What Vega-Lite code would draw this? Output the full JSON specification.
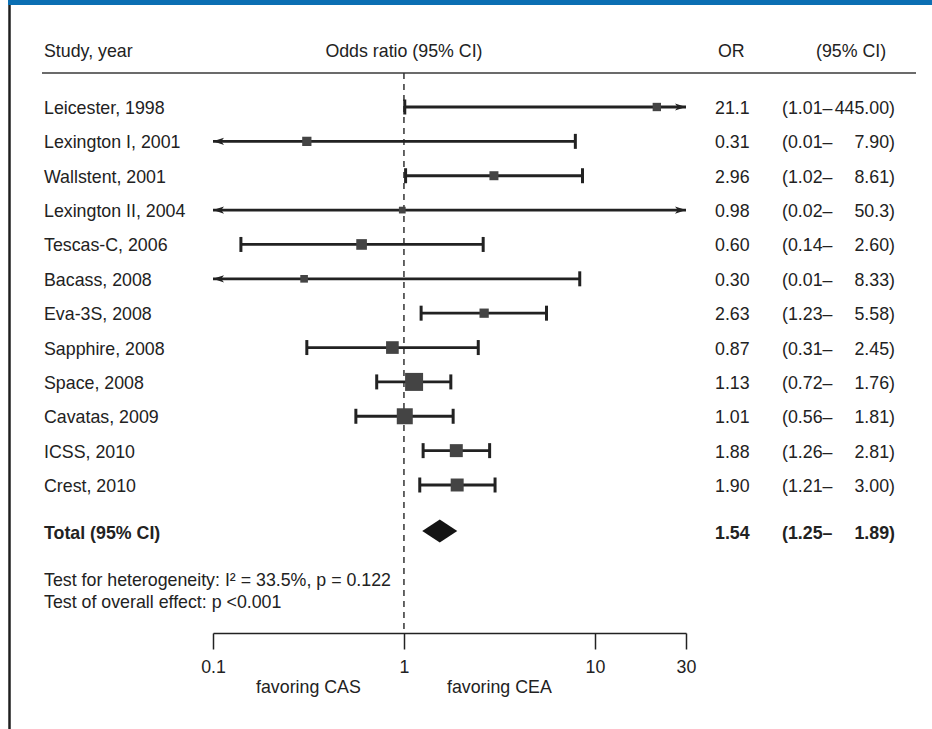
{
  "$schema": "https://vega.github.io/schema/vega-lite/v6.json",
  "width": 924,
  "height": 633,
  "autosize": {"type": "none"},
  "padding": {"left": 8, "top": 0, "right": 0, "bottom": 96},
  "background": "white",
  "config": {
    "view": {"stroke": null},
    "text": {"font": "Liberation Sans", "fontSize": 17.8, "color": "#222222"}
  },
  "datasets": {
    "studies": [
      {"study": "Leicester, 1998", "or": 21.1, "lo": 1.01, "hi": 445.0, "or_label": "21.1", "ci_lo": "(1.01–", "ci_hi": "445.00)", "weight": 4.3},
      {"study": "Lexington I, 2001", "or": 0.31, "lo": 0.01, "hi": 7.90, "or_label": "0.31", "ci_lo": "(0.01–", "ci_hi": "7.90)", "weight": 5.3},
      {"study": "Wallstent, 2001", "or": 2.96, "lo": 1.02, "hi": 8.61, "or_label": "2.96", "ci_lo": "(1.02–", "ci_hi": "8.61)", "weight": 5.0},
      {"study": "Lexington II, 2004", "or": 0.98, "lo": 0.02, "hi": 50.3, "or_label": "0.98", "ci_lo": "(0.02–", "ci_hi": "50.3)", "weight": 2.8},
      {"study": "Tescas-C, 2006", "or": 0.60, "lo": 0.14, "hi": 2.60, "or_label": "0.60", "ci_lo": "(0.14–", "ci_hi": "2.60)", "weight": 7.0},
      {"study": "Bacass, 2008", "or": 0.30, "lo": 0.01, "hi": 8.33, "or_label": "0.30", "ci_lo": "(0.01–", "ci_hi": "8.33)", "weight": 3.6},
      {"study": "Eva-3S, 2008", "or": 2.63, "lo": 1.23, "hi": 5.58, "or_label": "2.63", "ci_lo": "(1.23–", "ci_hi": "5.58)", "weight": 5.3},
      {"study": "Sapphire, 2008", "or": 0.87, "lo": 0.31, "hi": 2.45, "or_label": "0.87", "ci_lo": "(0.31–", "ci_hi": "2.45)", "weight": 9.9},
      {"study": "Space, 2008", "or": 1.13, "lo": 0.72, "hi": 1.76, "or_label": "1.13", "ci_lo": "(0.72–", "ci_hi": "1.76)", "weight": 20.0},
      {"study": "Cavatas, 2009", "or": 1.01, "lo": 0.56, "hi": 1.81, "or_label": "1.01", "ci_lo": "(0.56–", "ci_hi": "1.81)", "weight": 15.8},
      {"study": "ICSS, 2010", "or": 1.88, "lo": 1.26, "hi": 2.81, "or_label": "1.88", "ci_lo": "(1.26–", "ci_hi": "2.81)", "weight": 10.4},
      {"study": "Crest, 2010", "or": 1.90, "lo": 1.21, "hi": 3.00, "or_label": "1.90", "ci_lo": "(1.21–", "ci_hi": "3.00)", "weight": 10.4}
    ],
    "total": [
      {"label": "Total (95% CI)", "or": 1.54, "lo": 1.25, "hi": 1.89, "or_label": "1.54", "ci_lo": "(1.25–", "ci_hi": "1.89)"}
    ],
    "headers": [
      {"study_h": "Study, year", "plot_h": "Odds ratio (95% CI)", "or_h": "OR", "ci_h": "(95% CI)", "left_h": "favoring CAS", "right_h": "favoring CEA"}
    ]
  },
  "resolve": {"scale": {"x": "independent", "y": "independent"}},
  "layer": [
    {
      "data": {"values": [{"part": "bar"}]},
      "mark": {"type": "rule", "color": "#0b6fb3", "strokeWidth": 5},
      "encoding": {
        "y": {
          "field": "part", "type": "nominal",
          "scale": {"type": "point", "domain": ["bar", "end"], "range": [2.5, 729], "padding": 0},
          "axis": {"orient": "left", "offset": -1, "domain": true, "domainColor": "#1f1f1f", "domainWidth": 2.5, "ticks": false, "labels": false, "title": null, "grid": false}
        }
      }
    },
    {
      "data": {"values": [{"line": "header"}]},
      "mark": {"type": "rule", "color": "#3a3a3a", "strokeWidth": 1.5},
      "encoding": {
        "x": {"datum": 0, "type": "quantitative", "scale": {"domain": [0, 1], "range": [34, 908], "nice": false}, "axis": null},
        "x2": {"datum": 1},
        "y": {"field": "line", "type": "nominal", "scale": {"type": "point", "domain": ["header"], "range": [73, 73], "padding": 0}, "axis": null}
      }
    },
    {
      "data": {"name": "headers"},
      "mark": {"type": "rule", "strokeDash": [6, 5], "color": "#333333", "strokeWidth": 1.5},
      "encoding": {
        "x": {
          "datum": 1, "type": "quantitative",
          "scale": {"type": "log", "domain": [0.1, 30], "range": [205, 678], "nice": false, "clamp": true},
          "axis": {"orient": "bottom", "values": [0.1, 1, 10, 30], "format": "~g", "title": null, "grid": false, "tickSize": 16, "tickWidth": 1.5, "tickColor": "#222222", "domainColor": "#222222", "domainWidth": 1.5, "labelFontSize": 17.8, "labelFont": "Liberation Sans", "labelColor": "#222222", "labelPadding": 9, "labelFlush": false, "labelOverlap": false}
        },
        "y": {"datum": "rule", "type": "nominal", "scale": {"type": "point", "domain": ["rule", "axis"], "range": [73, 633], "padding": 0}, "axis": null},
        "y2": {"datum": "axis"}
      }
    },
    {
      "data": {"name": "headers"},
      "encoding": {
        "y": {"datum": "rule", "type": "nominal", "scale": {"type": "point", "domain": ["rule", "axis"], "range": [73, 633], "padding": 0}, "axis": null}
      },
      "layer": [
        {
          "mark": {"type": "text", "align": "left", "baseline": "alphabetic", "dx": -169, "dy": -16},
          "encoding": {
            "x": {"datum": 0.1, "type": "quantitative", "scale": {"type": "log", "domain": [0.1, 30], "range": [205, 678], "nice": false, "clamp": true}, "axis": null},
            "text": {"field": "study_h"}
          }
        },
        {
          "mark": {"type": "text", "align": "center", "baseline": "alphabetic", "dy": -16},
          "encoding": {"x": {"datum": 1, "type": "quantitative", "axis": null}, "text": {"field": "plot_h"}}
        },
        {
          "mark": {"type": "text", "align": "left", "baseline": "alphabetic", "dx": 32, "dy": -16},
          "encoding": {"x": {"datum": 30, "type": "quantitative", "axis": null}, "text": {"field": "or_h"}}
        },
        {
          "mark": {"type": "text", "align": "left", "baseline": "alphabetic", "dx": 130, "dy": -16},
          "encoding": {"x": {"datum": 30, "type": "quantitative", "axis": null}, "text": {"field": "ci_h"}}
        },
        {
          "mark": {"type": "text", "align": "center", "baseline": "alphabetic", "dy": 60},
          "encoding": {
            "x": {"datum": 0.316, "type": "quantitative", "axis": null},
            "y": {"datum": "axis", "type": "nominal", "axis": null},
            "text": {"field": "left_h"}
          }
        },
        {
          "mark": {"type": "text", "align": "center", "baseline": "alphabetic", "dy": 60},
          "encoding": {
            "x": {"datum": 3.16, "type": "quantitative", "axis": null},
            "y": {"datum": "axis", "type": "nominal", "axis": null},
            "text": {"field": "right_h"}
          }
        }
      ]
    },
    {
      "data": {"name": "studies"},
      "encoding": {
        "y": {"field": "study", "type": "nominal", "sort": null, "scale": {"type": "point", "range": [107, 485], "padding": 0}, "axis": null}
      },
      "layer": [
        {
          "mark": {"type": "rule", "color": "#222222", "strokeWidth": 2.8},
          "encoding": {
            "x": {"field": "lo", "type": "quantitative", "scale": {"type": "log", "domain": [0.1, 30], "range": [205, 678], "nice": false, "clamp": true}, "axis": null},
            "x2": {"field": "hi"}
          }
        },
        {
          "transform": [{"filter": "datum.lo >= 0.1"}],
          "mark": {"type": "tick", "color": "#222222", "size": 15, "thickness": 3, "opacity": 1},
          "encoding": {"x": {"field": "lo", "type": "quantitative", "axis": null}}
        },
        {
          "transform": [{"filter": "datum.hi <= 30"}],
          "mark": {"type": "tick", "color": "#222222", "size": 15, "thickness": 3, "opacity": 1},
          "encoding": {"x": {"field": "hi", "type": "quantitative", "axis": null}}
        },
        {
          "transform": [{"filter": "datum.lo < 0.1"}],
          "mark": {"type": "point", "shape": "M0,0L2,-0.65L1.5,0L2,0.65Z", "filled": true, "size": 121, "color": "#222222", "opacity": 1},
          "encoding": {"x": {"field": "lo", "type": "quantitative", "axis": null}}
        },
        {
          "transform": [{"filter": "datum.hi > 30"}],
          "mark": {"type": "point", "shape": "M0,0L-2,-0.65L-1.5,0L-2,0.65Z", "filled": true, "size": 121, "color": "#222222", "opacity": 1},
          "encoding": {"x": {"field": "hi", "type": "quantitative", "axis": null}}
        },
        {
          "mark": {"type": "point", "shape": "square", "filled": true, "color": "#444444", "opacity": 1},
          "encoding": {
            "x": {"field": "or", "type": "quantitative", "axis": null},
            "size": {"field": "weight", "type": "quantitative", "scale": {"type": "linear", "domain": [0, 20], "range": [0, 324]}, "legend": null}
          }
        },
        {
          "mark": {"type": "text", "align": "left", "baseline": "middle", "dx": -169, "dy": 2},
          "encoding": {"x": {"datum": 0.1, "type": "quantitative", "axis": null}, "text": {"field": "study"}}
        },
        {
          "mark": {"type": "text", "align": "left", "baseline": "middle", "dx": 29, "dy": 2},
          "encoding": {"x": {"datum": 30, "type": "quantitative", "axis": null}, "text": {"field": "or_label"}}
        },
        {
          "mark": {"type": "text", "align": "left", "baseline": "middle", "dx": 96, "dy": 2},
          "encoding": {"x": {"datum": 30, "type": "quantitative", "axis": null}, "text": {"field": "ci_lo"}}
        },
        {
          "mark": {"type": "text", "align": "right", "baseline": "middle", "dx": 209, "dy": 2},
          "encoding": {"x": {"datum": 30, "type": "quantitative", "axis": null}, "text": {"field": "ci_hi"}}
        }
      ]
    },
    {
      "data": {"name": "total"},
      "encoding": {
        "y": {"field": "label", "type": "nominal", "scale": {"type": "point", "domain": ["Total (95% CI)", "tests"], "range": [531, 586], "padding": 0}, "axis": null}
      },
      "layer": [
        {
          "mark": {"type": "point", "shape": "M-1,0L0,-0.657L1,0L0,0.657Z", "size": 1225, "filled": true, "color": "#141414", "opacity": 1},
          "encoding": {"x": {"field": "or", "type": "quantitative", "scale": {"type": "log", "domain": [0.1, 30], "range": [205, 678], "nice": false, "clamp": true}, "axis": null}}
        },
        {
          "mark": {"type": "text", "align": "left", "baseline": "middle", "dx": -169, "dy": 3, "fontWeight": "bold"},
          "encoding": {"x": {"datum": 0.1, "type": "quantitative", "axis": null}, "text": {"field": "label"}}
        },
        {
          "mark": {"type": "text", "align": "left", "baseline": "middle", "dx": 29, "dy": 3, "fontWeight": "bold"},
          "encoding": {"x": {"datum": 30, "type": "quantitative", "axis": null}, "text": {"field": "or_label"}}
        },
        {
          "mark": {"type": "text", "align": "left", "baseline": "middle", "dx": 96, "dy": 3, "fontWeight": "bold"},
          "encoding": {"x": {"datum": 30, "type": "quantitative", "axis": null}, "text": {"field": "ci_lo"}}
        },
        {
          "mark": {"type": "text", "align": "right", "baseline": "middle", "dx": 209, "dy": 3, "fontWeight": "bold"},
          "encoding": {"x": {"datum": 30, "type": "quantitative", "axis": null}, "text": {"field": "ci_hi"}}
        },
        {
          "mark": {"type": "text", "align": "left", "baseline": "alphabetic", "dx": -169, "lineHeight": 22},
          "encoding": {
            "x": {"datum": 0.1, "type": "quantitative", "axis": null},
            "y": {"datum": "tests", "type": "nominal", "axis": null},
            "text": {"value": ["Test for heterogeneity: I² = 33.5%, p = 0.122", "Test of overall effect: p <0.001"]}
          }
        }
      ]
    }
  ]
}
